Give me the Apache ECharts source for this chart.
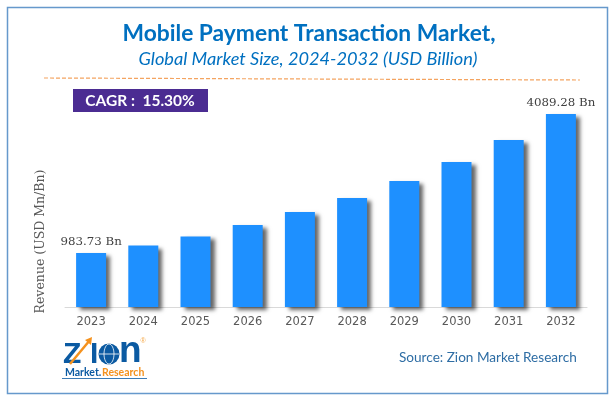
<!DOCTYPE html>
<html>
<head>
<meta charset="utf-8">
<style>
	html, body { margin: 0; padding: 0; background: #fff; }
	#echart { width: 616px; height: 401px; }
</style>
<script src="https://cdn.jsdelivr.net/npm/echarts@6/dist/echarts.min.js"></script>
</head>
<body>
<div id="echart"></div>
<script>
var years = ['2023', '2024', '2025', '2026', '2027', '2028', '2029', '2030', '2031', '2032'];
// bar heights (the drawn bars are not to scale with the first label)
var revenue = [1144, 1303, 1494, 1737, 2013, 2310, 2670, 3072, 3538, 4089.28];
var barLabels = ['983.73 Bn', '', '', '', '', '', '', '', '', '4089.28 Bn'];

var eChart = echarts.init(document.getElementById('echart'), null, { renderer: 'canvas' });

var eChartOption = {
	animation: false,
	backgroundColor: '#ffffff',
	title: [
		{
			text: 'Mobile Payment Transaction Market,',
			left: 309, top: 22, padding: 0, textAlign: 'center',
			textStyle: { fontFamily: 'Lato', fontSize: 22.8, fontWeight: 'bold', color: '#0070c0' }
		},
		{
			text: 'Global Market Size, 2024-2032 (USD Billion)',
			left: 308, top: 50, padding: 0, textAlign: 'center',
			textStyle: { fontFamily: 'Lato', fontSize: 18.2, fontStyle: 'italic', fontWeight: 'normal', color: '#0070c0' }
		},
		{
			text: 'Source: Zion Market Research',
			left: 399, top: 351, padding: 0,
			textStyle: { fontFamily: 'Lato', fontSize: 13.6, fontWeight: 'normal', color: '#2e6da4' }
		}
	],
	grid: { left: 65, right: 29, top: 114, bottom: 94, containLabel: false },
	xAxis: {
		type: 'category',
		data: years,
		axisTick: { show: false },
		axisLine: { lineStyle: { color: '#d9d9d9', width: 1 } },
		axisLabel: { margin: 9, fontFamily: 'DejaVu Sans', fontSize: 11.5, color: '#595959' }
	},
	yAxis: {
		type: 'value',
		min: 0,
		max: 4089.28,
		name: 'Revenue (USD Mn/Bn)',
		nameLocation: 'middle',
		nameRotate: 90,
		nameGap: 18,
		nameTextStyle: { fontFamily: 'DejaVu Serif', fontSize: 12.5, color: '#595959', padding: [0, 62, 0, 0] },
		axisLine: { show: false },
		axisTick: { show: false },
		axisLabel: { show: false },
		splitLine: { show: false }
	},
	series: [
		{
			name: 'Revenue',
			type: 'bar',
			data: revenue,
			barWidth: 30,
			itemStyle: {
				color: '#1e90ff',
				shadowColor: 'rgba(0,0,0,0.6)',
				shadowBlur: 4,
				shadowOffsetX: 4,
				shadowOffsetY: 3
			},
			label: {
				show: true,
				position: 'top',
				distance: 5,
				fontFamily: 'DejaVu Serif',
				fontSize: 11.8,
				color: '#404040',
				formatter: function(p) { return barLabels[p.dataIndex]; }
			}
		}
	],
	graphic: [
		// outer frame
		{ type: 'rect', shape: { x: 7.5, y: 7.5, width: 600, height: 386 }, style: { fill: 'none', stroke: '#6699cc', lineWidth: 1.5 } },
		// dashed rule under the titles
		{ type: 'line', shape: { x1: 44, y1: 78, x2: 580, y2: 80 }, style: { stroke: '#f4a460', lineWidth: 1.2, lineDash: [4, 2] } },
		// CAGR box
		{ type: 'rect', shape: { x: 73, y: 89, width: 135, height: 23 }, style: { fill: '#4b2c92' } },
		{ type: 'text', x: 140, y: 100.5, style: { text: 'CAGR :  15.30%', fill: '#ffffff', font: 'bold 15.5px Lato', textAlign: 'center', textVerticalAlign: 'middle' } },
		// logo
		{ type: 'text', x: 63, y: 355, style: { text: 'Z', fill: '#0b5aa2', font: 'bold 30px "Liberation Sans"', textVerticalAlign: 'middle' } },
		{ type: 'line', shape: { x1: 70, y1: 364, x2: 90, y2: 340 }, style: { stroke: '#f5921e', lineWidth: 2.5 } },
		{ type: 'polygon', shape: { points: [[92, 337], [91, 345], [85, 340]] }, style: { fill: '#f5921e' } },
		{ type: 'text', x: 90, y: 355, style: { text: 'I', fill: '#0b5aa2', font: 'bold 30px "Liberation Sans"', textVerticalAlign: 'middle' } },
		{ type: 'circle', shape: { cx: 109, cy: 354, r: 10.5 }, style: { fill: '#0b5aa2' } },
		{ type: 'ellipse', shape: { cx: 109, cy: 354, rx: 5, ry: 10 }, style: { fill: 'none', stroke: '#ffffff', lineWidth: 0.8 } },
		{ type: 'line', shape: { x1: 99, y1: 354, x2: 119, y2: 354 }, style: { stroke: '#ffffff', lineWidth: 0.8 } },
		{ type: 'text', x: 119, y: 352, style: { text: 'n', fill: '#0b5aa2', font: 'bold 37px "Liberation Sans"', textVerticalAlign: 'middle' } },
		{ type: 'text', x: 143, y: 341, style: { text: '®', fill: '#f5a94a', font: '7px "Liberation Sans"', textAlign: 'center', textVerticalAlign: 'middle' } },
		{ type: 'text', x: 65, y: 373, style: { text: 'Market.', fill: '#0b5aa2', font: 'bold 10.5px Lato', textVerticalAlign: 'middle' } },
		{ type: 'text', x: 102, y: 373, style: { text: 'Research', fill: '#f5921e', font: 'bold 10.5px Lato', textVerticalAlign: 'middle' } },
		{ type: 'line', shape: { x1: 62, y1: 378.5, x2: 147, y2: 378.5 }, style: { stroke: '#0b5aa2', lineWidth: 0.8 } }
	]
};

eChart.setOption(eChartOption);
</script>
</body>
</html>
